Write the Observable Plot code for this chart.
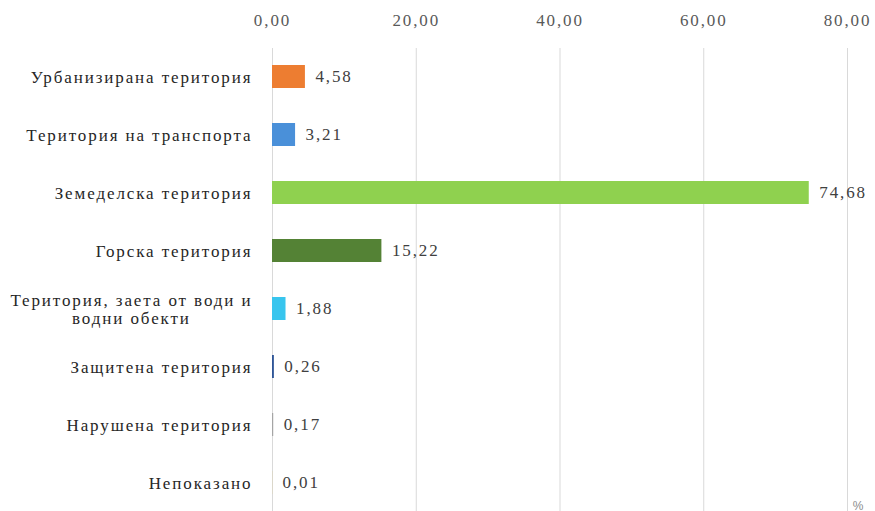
<!DOCTYPE html>
<html>
<head>
<meta charset="utf-8">
<script src="https://cdn.jsdelivr.net/npm/d3@7"></script>
<script src="https://cdn.jsdelivr.net/npm/@observablehq/plot@0.6"></script>
<style>
  html, body { margin: 0; padding: 0; background: #fff; }
</style>
</head>
<body>
<div id="chart"></div>
<script>
const categories = [
  "Урбанизирана територия",
  "Територия на транспорта",
  "Земеделска територия",
  "Горска територия",
  "Територия, заета от води и\nводни обекти",
  "Защитена територия",
  "Нарушена територия",
  "Непоказано"
];
const values = [4.58, 3.21, 74.68, 15.22, 1.88, 0.26, 0.17, 0.01];
const colors = ["#ED7D31", "#4A90D9", "#8FD14F", "#548235", "#38C5EE", "#2F5597", "#A5A5A5", "#FFC000"];
const xTicks = [0, 20, 40, 60, 80];
const unitLabel = "%";

const data = categories.map((c, i) => ({cat: c, value: values[i], color: colors[i]}));
const fmt = d => d.toFixed(2).replace(".", ",");
const SERIF = "Liberation Serif";

const plot = Plot.plot({
  width: 875,
  height: 511,
  marginLeft: 272,
  marginRight: 28,
  marginTop: 48,
  marginBottom: 0,
  style: "font-family: 'Liberation Serif'; font-size: 17px; letter-spacing: 1.9px; background: #fff; color: #404040;",
  x: {domain: [0, 80], label: null},
  y: {domain: categories, paddingInner: 0.6, paddingOuter: 0.29, label: null},
  color: {type: "identity"},
  marks: [
    Plot.gridX(xTicks, {stroke: "#d9d9d9", strokeOpacity: 1, strokeWidth: 1}),
    Plot.axisX({anchor: "top", ticks: xTicks, tickSize: 0, tickPadding: 23, tickFormat: fmt, fill: "#595959", label: null, fontFamily: SERIF}),
    Plot.axisY({tickSize: 0, tickPadding: 20, fill: "#262626", label: null, lineHeight: 1.06, fontFamily: SERIF}),
    Plot.barX(data, {x: "value", y: "cat", fill: "color"}),
    Plot.text(data, {x: "value", y: "cat", text: d => fmt(d.value), textAnchor: "start", dx: 10, fill: "#404040", fontFamily: SERIF}),
    Plot.text([unitLabel], {frameAnchor: "bottom-right", dx: 16, dy: -2, fill: "#8c8c8c", fontSize: 12, fontFamily: "Liberation Sans"})
  ]
});
document.getElementById("chart").appendChild(plot);
plot.querySelectorAll("text").forEach(t => { if (t.textContent === unitLabel) t.style.letterSpacing = "0px"; });

// center multi-line y labels (Excel style): right edge of widest line stays at anchor
plot.querySelectorAll("text").forEach(t => {
  const spans = Array.from(t.querySelectorAll("tspan"));
  if (spans.length < 2) return;
  const widths = spans.map(s => s.getComputedTextLength());
  const W = Math.max(...widths);
  spans.forEach((s, i) => {
    const x0 = parseFloat(s.getAttribute("x") || 0) || 0;
    s.setAttribute("x", x0 - (W - widths[i]) / 2);
  });
});
</script>
</body>
</html>
